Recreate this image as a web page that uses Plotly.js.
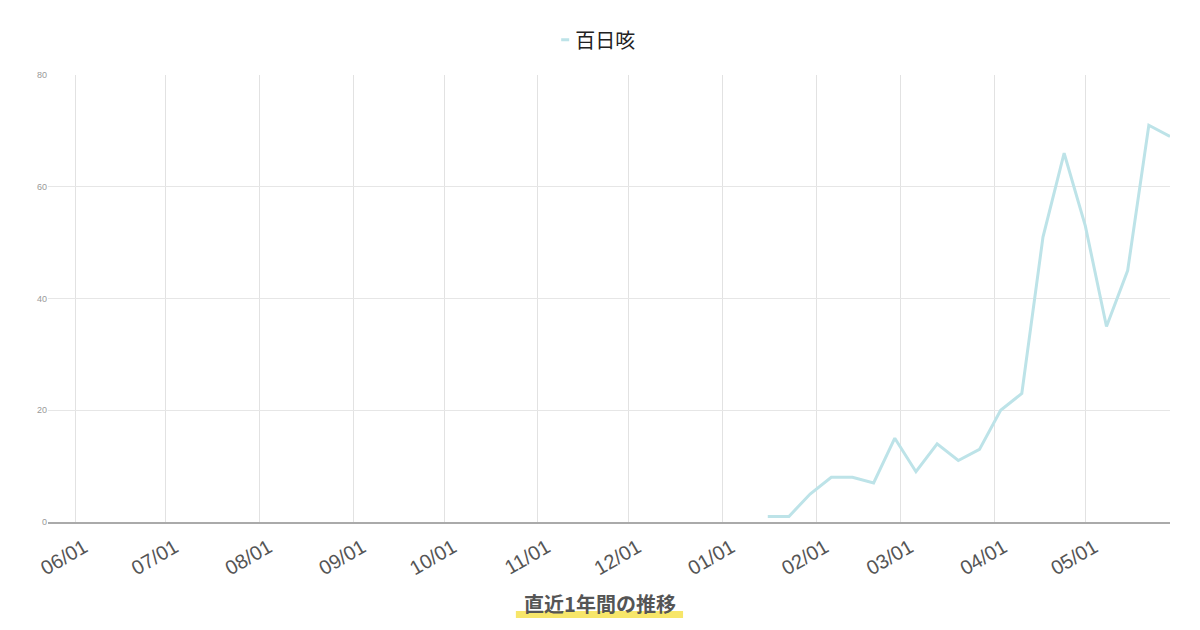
<!DOCTYPE html>
<html>
<head>
<meta charset="utf-8">
<script src="https://cdn.plot.ly/plotly-3.0.1.min.js"></script>
<style>
  html, body { margin: 0; padding: 0; background: #fff; }
  #plot { width: 1200px; height: 630px; }
</style>
</head>
<body>
<div id="plot"></div>
<script>
// weekly reports, 2025 (earlier weeks have no value)
const weeks = [
  '2025-01-16', '2025-01-23', '2025-01-30', '2025-02-06', '2025-02-13',
  '2025-02-20', '2025-02-27', '2025-03-06', '2025-03-13', '2025-03-20',
  '2025-03-27', '2025-04-03', '2025-04-10', '2025-04-17', '2025-04-24',
  '2025-05-01', '2025-05-08', '2025-05-15', '2025-05-22', '2025-05-29'
];
const pertussis = [1, 1, 5, 8, 8, 7, 15, 9, 14, 11, 13, 20, 23, 51, 66, 53, 35, 45, 71, 69];
const seriesName = '百日咳';
const chartTitle = '直近1年間の推移';
const xRange = ['2024-05-23', '2025-05-29'];

const data = [{
  type: 'scatter', mode: 'lines', name: seriesName,
  x: weeks, y: pertussis,
  line: { color: '#bde3e8', width: 3 }
}];

const layout = {
  width: 1200, height: 630,
  paper_bgcolor: '#fff', plot_bgcolor: '#fff',
  margin: { l: 48, r: 30, t: 75, b: 108 },
  showlegend: true,
  legend: {
    orientation: 'h', x: 0.481, xanchor: 'center',
    yref: 'container', y: 0.937, yanchor: 'middle',
    font: { family: '"Noto Sans CJK JP", "Noto Sans", sans-serif', size: 20, color: '#222' }
  },
  title: {
    text: '<b>' + chartTitle + '</b>',
    x: 0.5, xanchor: 'center', xref: 'container',
    y: 0.04, yanchor: 'middle', yref: 'container',
    font: { family: '"Noto Sans CJK JP", sans-serif', size: 20, color: '#555' }
  },
  xaxis: {
    type: 'date', range: xRange,
    tick0: '2024-06-01', dtick: 'M1', tickformat: '%m/%d',
    tickangle: -30, ticklabelshift: 9, ticklabelstandoff: 4,
    tickfont: { family: '"Liberation Sans", Arial, sans-serif', size: 20, color: '#555' },
    showgrid: true, gridcolor: '#e2e2e2', gridwidth: 1,
    showline: true, linecolor: '#aaa', linewidth: 2,
    zeroline: false, ticks: ''
  },
  yaxis: {
    range: [0, 80], dtick: 20,
    tickfont: { family: '"Liberation Sans", Arial, sans-serif', size: 9, color: '#999' },
    showgrid: true, gridcolor: '#e6e6e6', gridwidth: 1,
    zeroline: false, showline: false, ticks: ''
  },
  shapes: [{
    type: 'line', xref: 'paper', yref: 'paper',
    x0: 0.417, x1: 0.566, y0: -0.207, y1: -0.207,
    line: { color: 'rgba(246, 226, 80, 0.85)', width: 7 },
    layer: 'below'
  }]
};

Plotly.newPlot('plot', data, layout, { displayModeBar: false, staticPlot: true })
  .then(gd => {
    // short legend swatch like the original
    gd.querySelectorAll('.legendlines path').forEach(p => p.setAttribute('d', 'M26,0h8'));
  });
</script>
</body>
</html>
